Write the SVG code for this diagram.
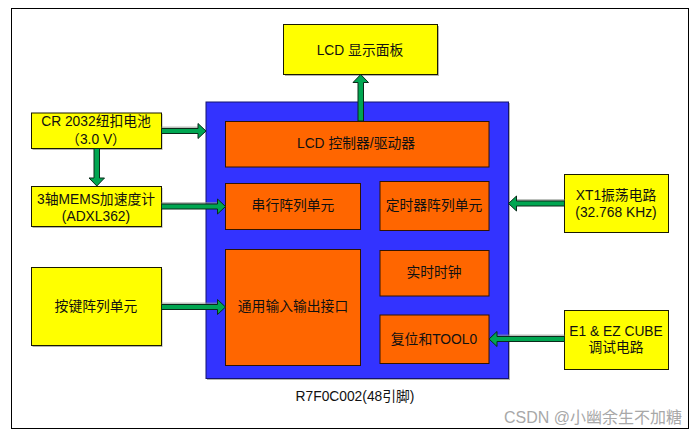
<svg xmlns="http://www.w3.org/2000/svg" width="699" height="435" viewBox="0 0 699 435">
<style>
text{font-family:"Liberation Sans","Noto Sans CJK SC",sans-serif;font-size:13.800px;fill:#111;text-anchor:middle}
.y{fill:#ff0;stroke:#1a1a00;stroke-width:1}
.o{fill:#f60;stroke:#331400;stroke-width:1}
.s{fill:#9a9a90;opacity:.75}
.a{fill:#00a651;stroke:#0a2a1a;stroke-width:1}
.as{fill:#8f968f;opacity:.6}
</style>
<rect width="699" height="435" fill="#fff"/>
<rect id="frame" x="11.500" y="8.500" width="677" height="420" fill="#fff" stroke="#000" stroke-width="1"/>
<g id="mcu"><rect class="s" x="207" y="103" width="303" height="277"/><rect x="206" y="102" width="302.500" height="276.500" fill="#33f" stroke="#14146e" stroke-width="1"/></g>
<g id="lcd-panel"><rect class="s" x="285" y="26" width="154" height="50"/><rect class="y" x="283.500" y="24.500" width="154" height="50"/><text x="360" y="54.500">LCD 显示面板</text></g>
<g id="lcd-ctrl"><rect class="o" x="225.500" y="121.500" width="263.500" height="45.500"/><text x="356" y="148">LCD 控制器/驱动器</text></g>
<g id="serial"><rect class="o" x="225.500" y="183.500" width="135" height="46"/><text x="293" y="210">串行阵列单元</text></g>
<g id="timer"><rect class="o" x="380" y="181.500" width="109" height="49"/><text x="434" y="210">定时器阵列单元</text></g>
<g id="gpio"><rect class="o" x="225.500" y="249.500" width="135" height="116"/><text x="293" y="311">通用输入输出接口</text></g>
<g id="rtc"><rect class="o" x="380" y="250.500" width="109" height="45.500"/><text x="434" y="277">实时时钟</text></g>
<g id="reset"><rect class="o" x="380" y="315" width="109" height="48.500"/><text x="434" y="344">复位和TOOL0</text></g>
<g id="battery"><rect class="s" x="32.500" y="114" width="130" height="36"/><rect class="y" x="31.500" y="113" width="130" height="35.500"/><text x="96" y="126">CR 2032纽扣电池</text><text x="96" y="144">（3.0 V）</text></g>
<g id="accel"><rect class="s" x="32.500" y="188" width="130" height="40"/><rect class="y" x="31.500" y="186.500" width="130" height="40"/><text x="96" y="204">3轴MEMS加速度计</text><text x="96" y="220.500">(ADXL362)</text></g>
<g id="keys"><rect class="s" x="32.500" y="269" width="130" height="78"/><rect class="y" x="31.500" y="267.500" width="130" height="78"/><text x="96" y="311">按键阵列单元</text></g>
<g id="xt1"><rect class="y" x="564.500" y="174.500" width="104" height="58"/><text x="616" y="200">XT1振荡电路</text><text x="616" y="217">(32.768 KHz)</text></g>
<g id="debug"><rect class="y" x="564.500" y="310.500" width="104" height="59"/><text x="616" y="336">E1 &amp; EZ CUBE</text><text x="616" y="352">调试电路</text></g>
<g id="connectors">
<path class="as" d="M161.500 126.500H198V133H161.500Z"/>
<path class="as" d="M161.500 202H217.500V207H161.500Z"/>
<path class="as" d="M161.500 302.500H217.500V307H161.500Z"/>
<path class="as" d="M516.500 199H564.500V204H516.500Z"/>
<path class="as" d="M497 334.500H564.500V339H497Z"/>
<path class="a" d="M161.500 128.500H198V123.500L206 131L198 138.500V133.500H161.500Z"/>
<path class="a" d="M94 148.500H99.500V178H104.500L96.800 186L89 178H94Z"/>
<path class="a" d="M161.500 204H217.500V199L225.500 206.500L217.500 214V209H161.500Z"/>
<path class="a" d="M161.500 304.500H217.500V299.500L225.500 307L217.500 314.500V309.500H161.500Z"/>
<path class="a" d="M358 121V82.500H353L360.700 74.500L368.500 82.500H363.500V121Z"/>
<path class="a" d="M564.500 201H516.500V196L508.500 203.500L516.500 211V206H564.500Z"/>
<path class="a" d="M564.500 336.500H497V331.500L489 339L497 346.500V341.500H564.500Z"/>
</g>
<text x="355" y="401">R7F0C002(48引脚)</text>
<text x="593" y="423" style="font-size:16px;fill:#a8a8a8">CSDN @小幽余生不加糖</text>
</svg>
